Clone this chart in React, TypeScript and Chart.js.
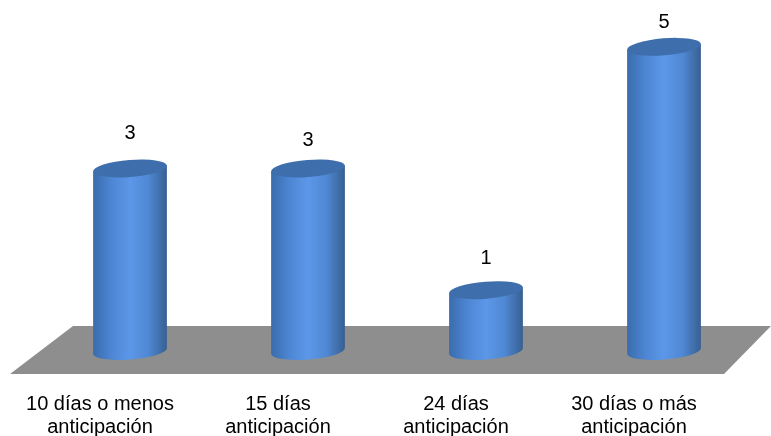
import React, { useEffect, useRef } from "react";
import { Chart, registerables } from "chart.js";

Chart.register(...registerables);

const categories = [
  ["10 días o menos", "anticipación"],
  ["15 días", "anticipación"],
  ["24 días", "anticipación"],
  ["30 días o más", "anticipación"],
];
const values = [3, 3, 1, 5];

const FONT = '"Liberation Sans", Arial, sans-serif';
const RX = 37;
const RY = 8.5;
const TILT = -0.08;
const LABEL_GAPS = [35, 28, 32, 24];

function sideGradient(ctx: CanvasRenderingContext2D, x: number) {
  const g = ctx.createLinearGradient(x - RX, 0, x + RX, 0);
  g.addColorStop(0, "#3a6cad");
  g.addColorStop(0.25, "#4d86d3");
  g.addColorStop(0.5, "#5c97e8");
  g.addColorStop(0.75, "#4f88d3");
  g.addColorStop(1, "#375f92");
  return g;
}

const cylinderPlugin = {
  id: "cylinder",
  beforeDatasetsDraw(chart: any) {
    const { ctx, scales } = chart;
    const y0 = scales.y.getPixelForValue(0);
    ctx.save();
    ctx.fillStyle = "#8e8e8e";
    ctx.beginPath();
    ctx.moveTo(10, y0 + 23);
    ctx.lineTo(724, y0 + 23);
    ctx.lineTo(771, y0 - 25);
    ctx.lineTo(73, y0 - 25);
    ctx.closePath();
    ctx.fill();
    ctx.restore();
  },
  afterDatasetsDraw(chart: any) {
    const { ctx } = chart;
    const meta = chart.getDatasetMeta(0);
    ctx.save();
    meta.data.forEach((bar: any) => {
      const { x, y, base } = bar.getProps(["x", "y", "base"], true);
      const dx = RX * Math.cos(TILT);
      const dy = RX * Math.sin(TILT);
      ctx.fillStyle = sideGradient(ctx, x);
      ctx.beginPath();
      ctx.moveTo(x - dx, y - dy);
      ctx.lineTo(x - dx, base - dy);
      ctx.ellipse(x, base, RX, RY, TILT, Math.PI, 0, true);
      ctx.lineTo(x + dx, y + dy);
      ctx.closePath();
      ctx.fill();

      ctx.fillStyle = "#3e6eab";
      ctx.beginPath();
      ctx.ellipse(x, y, RX, RY, TILT, 0, Math.PI * 2);
      ctx.fill();
    });
    ctx.fillStyle = "#000";
    ctx.font = `20px ${FONT}`;
    ctx.textAlign = "center";
    ctx.textBaseline = "middle";
    meta.data.forEach((bar: any, i: number) => {
      const { x, y } = bar.getProps(["x", "y"], true);
      ctx.fillText(String(values[i]), x, y - LABEL_GAPS[i]);
    });
    ctx.restore();
  },
};

export default function App() {
  const ref = useRef<HTMLCanvasElement>(null);
  useEffect(() => {
    document.body.style.margin = "0";
    const chart = new Chart(ref.current!, {
      type: "bar",
      data: {
        labels: categories,
        datasets: [
          {
            data: values,
            backgroundColor: "rgba(0,0,0,0)",
            barThickness: 74,
          },
        ],
      },
      options: {
        animation: false,
        responsive: false,
        layout: { padding: { left: 41, right: 18, top: 0, bottom: 0 } },
        plugins: { legend: { display: false }, tooltip: { enabled: false } },
        scales: {
          x: {
            grid: { display: false },
            border: { display: false },
            afterFit(axis: any) {
              axis.height = 85;
            },
            ticks: {
              color: "#000",
              font: { family: FONT, size: 20, lineHeight: 1.15 },
              maxRotation: 0,
              autoSkip: false,
              padding: 34,
              labelOffset: -30,
            },
          },
          y: {
            display: false,
            min: 0,
            max: 5.77,
          },
        },
      },
      plugins: [cylinderPlugin],
    });
    return () => chart.destroy();
  }, []);
  return <canvas ref={ref} width={771} height={436} style={{ display: "block" }} />;
}
